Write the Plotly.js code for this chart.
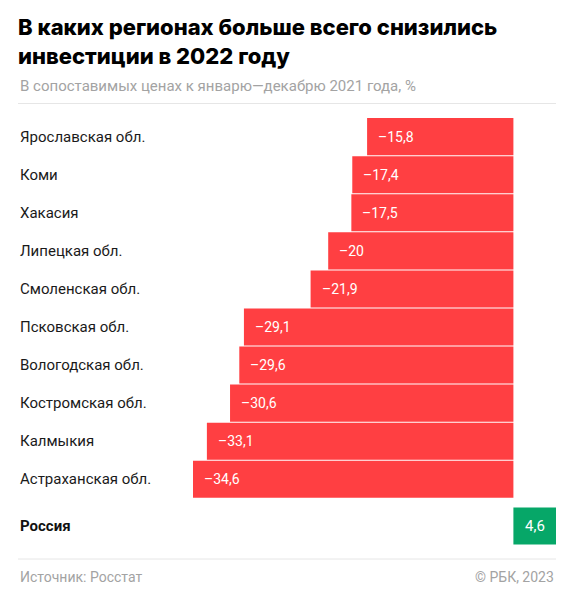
<!DOCTYPE html>
<html>
<head>
<meta charset="utf-8">
<script src="https://cdn.plot.ly/plotly-3.0.1.min.js"></script>
<style>html,body{margin:0;padding:0;background:#fff;}#chart{width:574px;height:600px;}</style>
</head>
<body>
<div id="chart"></div>
<script>
const regions = ["Ярославская обл.", "Коми", "Хакасия", "Липецкая обл.", "Смоленская обл.",
  "Псковская обл.", "Вологодская обл.", "Костромская обл.", "Калмыкия", "Астраханская обл."];
const regionValues = [-15.8, -17.4, -17.5, -20, -21.9, -29.1, -29.6, -30.6, -33.1, -34.6];
const totalLabel = ["Россия"];
const totalValue = [4.6];

const titleText = "В каких регионах больше всего снизились<br>инвестиции в 2022 году";
const subtitleText = "В сопоставимых ценах к январю—декабрю 2021 года, %";
const sourceText = "Источник: Росстат";
const creditText = "© РБК, 2023";

const FONT = "Roboto, 'Noto Sans', Arial, sans-serif";
const TITLE_FONT = "Inter, Roboto, sans-serif";
const RED = "#ff3f42";
const GREEN = "#06a768";

function fmt(v) {
  return (v < 0 ? "–" : "") + String(Math.abs(v)).replace(".", ",");
}

const regionPos = regions.map((_, i) => i);
const totalPos = [regions.length - 1 + 1.226];

const W = 574, H = 600;
const mL = 193, mR = 18, mT = 118, mB = 55;
const plotW = W - mL - mR, plotH = H - mT - mB;
const px2paperX = px => (px - mL) / plotW;
const px2paperY = py => 1 - (py - mT) / plotH;

const traces = [
  {
    type: "bar", orientation: "h",
    x: regionValues, y: regionPos,
    marker: {color: RED, line: {width: 0}},
    width: 0.974, hoverinfo: "none"
  },
  {
    type: "bar", orientation: "h",
    x: totalValue, y: totalPos,
    marker: {color: GREEN, line: {width: 0}},
    width: 0.974, hoverinfo: "none"
  }
];

const annotations = [];
regions.forEach((r, i) => {
  annotations.push({
    xref: "paper", yref: "y", x: px2paperX(18), y: regionPos[i],
    xanchor: "left", yanchor: "middle", showarrow: false,
    text: r, font: {family: FONT, size: 15, color: "#1a1a1a"}
  });
  annotations.push({
    xref: "x", yref: "y", x: regionValues[i], y: regionPos[i],
    xanchor: "left", yanchor: "middle", xshift: 9, showarrow: false,
    text: fmt(regionValues[i]), font: {family: FONT, size: 14, color: "#ffffff"}
  });
});
totalLabel.forEach((r, i) => {
  annotations.push({
    xref: "paper", yref: "y", x: px2paperX(18), y: totalPos[i],
    xanchor: "left", yanchor: "middle", showarrow: false,
    text: "<b>" + r + "</b>", font: {family: FONT, size: 15, color: "#111"}
  });
  annotations.push({
    xref: "x", yref: "y", x: totalValue[i] / 2, y: totalPos[i],
    xanchor: "center", yanchor: "middle", showarrow: false,
    text: fmt(totalValue[i]), font: {family: FONT, size: 15, color: "#ffffff"}
  });
});
annotations.push({
  xref: "paper", yref: "paper", x: px2paperX(16), y: px2paperY(41),
  xanchor: "left", yanchor: "middle", align: "left", showarrow: false,
  text: titleText, font: {family: TITLE_FONT, size: 22, color: "#000", weight: 800}
});
annotations.push({
  xref: "paper", yref: "paper", x: px2paperX(18), y: px2paperY(86),
  xanchor: "left", yanchor: "middle", showarrow: false,
  text: subtitleText, font: {family: FONT, size: 15, color: "#a3a3a3"}
});
annotations.push({
  xref: "paper", yref: "paper", x: px2paperX(18), y: px2paperY(577),
  xanchor: "left", yanchor: "middle", showarrow: false,
  text: sourceText, font: {family: FONT, size: 14, color: "#a3a3a3"}
});
annotations.push({
  xref: "paper", yref: "paper", x: px2paperX(556), y: px2paperY(577),
  xanchor: "right", yanchor: "middle", showarrow: false,
  text: creditText, font: {family: FONT, size: 14, color: "#a3a3a3"}
});

const shapes = [103.5, 559].map(py => ({
  type: "line", xref: "paper", yref: "paper",
  x0: px2paperX(18), x1: px2paperX(556), y0: px2paperY(py), y1: px2paperY(py),
  line: {color: "#e6e6e6", width: 1}
}));

const layout = {
  width: W, height: H,
  margin: {l: mL, r: mR, t: mT, b: mB, pad: 0},
  paper_bgcolor: "#fff", plot_bgcolor: "#fff",
  showlegend: false, barmode: "overlay",
  xaxis: {range: [-34.6, 4.6], showgrid: false, zeroline: false, showticklabels: false, ticks: "", fixedrange: true},
  yaxis: {range: [totalPos[0] + 0.5, -0.49], showgrid: false, zeroline: false, showticklabels: false, ticks: "", fixedrange: true},
  annotations: annotations,
  shapes: shapes
};

Plotly.newPlot("chart", traces, layout, {displayModeBar: false, staticPlot: true});
</script>
</body>
</html>
